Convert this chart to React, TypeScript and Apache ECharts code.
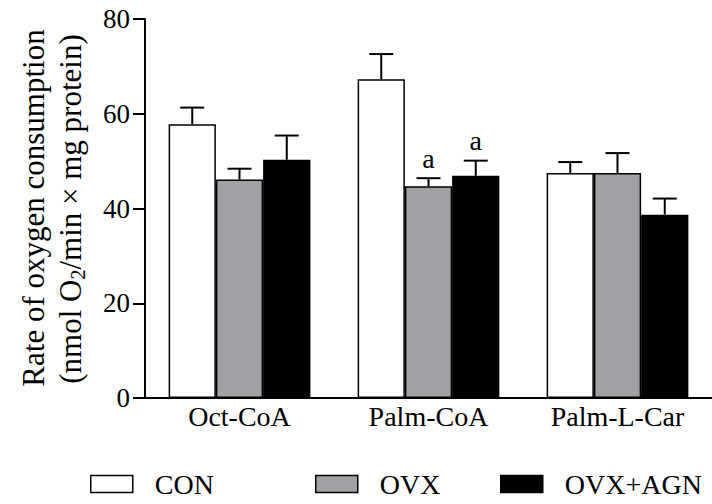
import React, { useEffect, useRef } from "react";
import * as echarts from "echarts";

const categories = ["Oct-CoA", "Palm-CoA", "Palm-L-Car"];
const groups = ["CON", "OVX", "OVX+AGN"];
const conMean = [57.8, 67.3, 47.5];
const conErr = [3.5, 5.3, 2.3];
const ovxMean = [46.1, 44.7, 47.5];
const ovxErr = [2.3, 1.7, 4.2];
const agnMean = [50.3, 46.9, 38.7];
const agnErr = [5.1, 3.2, 3.4];
const ovxSig = ["", "a", ""];
const agnSig = ["", "a", ""];
const yTicks = [0, 20, 40, 60, 80];

const FONT = "Liberation Serif";
const colors = ["#ffffff", "#a1a1a5", "#000000"];

export default function App() {
  const ref = useRef<HTMLDivElement>(null);
  useEffect(() => {
    document.body.style.margin = "0";
    const chart = echarts.init(ref.current!, null, { renderer: "svg" });
    const means = [conMean, ovxMean, agnMean];
    const errs = [conErr, ovxErr, agnErr];
    const sigs = [["", "", ""], ovxSig, agnSig];

    const barSeries = groups.map((g, j) => ({
      name: g,
      type: "bar",
      data: means[j],
      barGap: "0%",
      barCategoryGap: "25%",
      itemStyle: { color: colors[j], borderColor: "#000", borderWidth: 1.5 },
      z: 2,
    }));

    const errSeries = groups.map((g, j) => ({
      name: g + "-err",
      type: "custom",
      z: 3,
      data: categories.map((_, i) => [i, means[j][i], errs[j][i]]),
      encode: { x: 0, y: 1 },
      renderItem: (params: any, api: any) => {
        const i = api.value(0);
        const m = api.value(1);
        const e = api.value(2);
        const sig = sigs[j][i];
        const p0 = api.coord([i, m]);
        const p1 = api.coord([i, m + e]);
        const bw = api.size([1, 0])[0];
        const x = p0[0] + (j - 1) * bw * 0.25;
        const ls = { stroke: "#000", lineWidth: 2 };
        const children: any[] = [
          { type: "line", shape: { x1: x, y1: p0[1], x2: x, y2: p1[1] }, style: ls },
          { type: "line", shape: { x1: x - 12, y1: p1[1], x2: x + 12, y2: p1[1] }, style: ls },
        ];
        if (sig) {
          children.push({
            type: "text",
            x: x,
            y: p1[1] - 6,
            style: {
              text: sig,
              fontFamily: FONT,
              fontSize: 28,
              fill: "#000",
              align: "center",
              verticalAlign: "bottom",
            },
          });
        }
        return { type: "group", children };
      },
    }));

    const legendLefts = [90, 315, 500];
    const legends = groups.map((g, j) => ({
      left: legendLefts[j],
      top: 470,
      padding: 0,
      icon: "rect",
      itemWidth: 42,
      itemHeight: 17,
      data: [{ name: g, icon: "rect", itemStyle: { color: colors[j], borderColor: "#000", borderWidth: 1.5 } }],
      textStyle: { fontFamily: FONT, fontSize: 28, color: "#000", padding: [0, 0, 0, 17] },
      selectedMode: false,
    }));

    chart.setOption({
      animation: false,
      textStyle: { fontFamily: FONT },
      grid: { left: 145, top: 19, width: 576, height: 379 },
      legend: legends,
      xAxis: {
        type: "category",
        data: categories,
        axisLine: { lineStyle: { color: "#000", width: 2 } },
        axisTick: { show: false },
        axisLabel: { fontFamily: FONT, fontSize: 28, color: "#000", margin: 4 },
      },
      yAxis: {
        type: "value",
        min: yTicks[0],
        max: yTicks[yTicks.length - 1],
        interval: 20,
        axisLine: { show: true, lineStyle: { color: "#000", width: 2 } },
        axisTick: { show: true, length: 12, lineStyle: { color: "#000", width: 2 } },
        axisLabel: { fontFamily: FONT, fontSize: 27, color: "#000", margin: 15 },
        splitLine: { show: false },
      },
      graphic: [
        {
          type: "text",
          x: 33,
          y: 208,
          rotation: Math.PI / 2,
          style: {
            text: "Rate of oxygen consumption",
            fontFamily: FONT,
            fontSize: 31,
            fill: "#000",
            align: "center",
            verticalAlign: "middle",
          },
        },
        {
          type: "text",
          x: 70,
          y: 209,
          rotation: Math.PI / 2,
          style: {
            text: "{a|(nmol O}{s|2}{a|/min × mg protein)}",
            align: "center",
            verticalAlign: "middle",
            rich: {
              a: { fontFamily: FONT, fontSize: 31, color: "#000", lineHeight: 36 },
              s: { fontFamily: FONT, fontSize: 20, color: "#000", lineHeight: 20, verticalAlign: "bottom" },
            },
          },
        },
      ],
      series: [...barSeries, ...errSeries],
    });
    return () => chart.dispose();
  }, []);
  return <div ref={ref} style={{ width: 712, height: 504 }} />;
}
